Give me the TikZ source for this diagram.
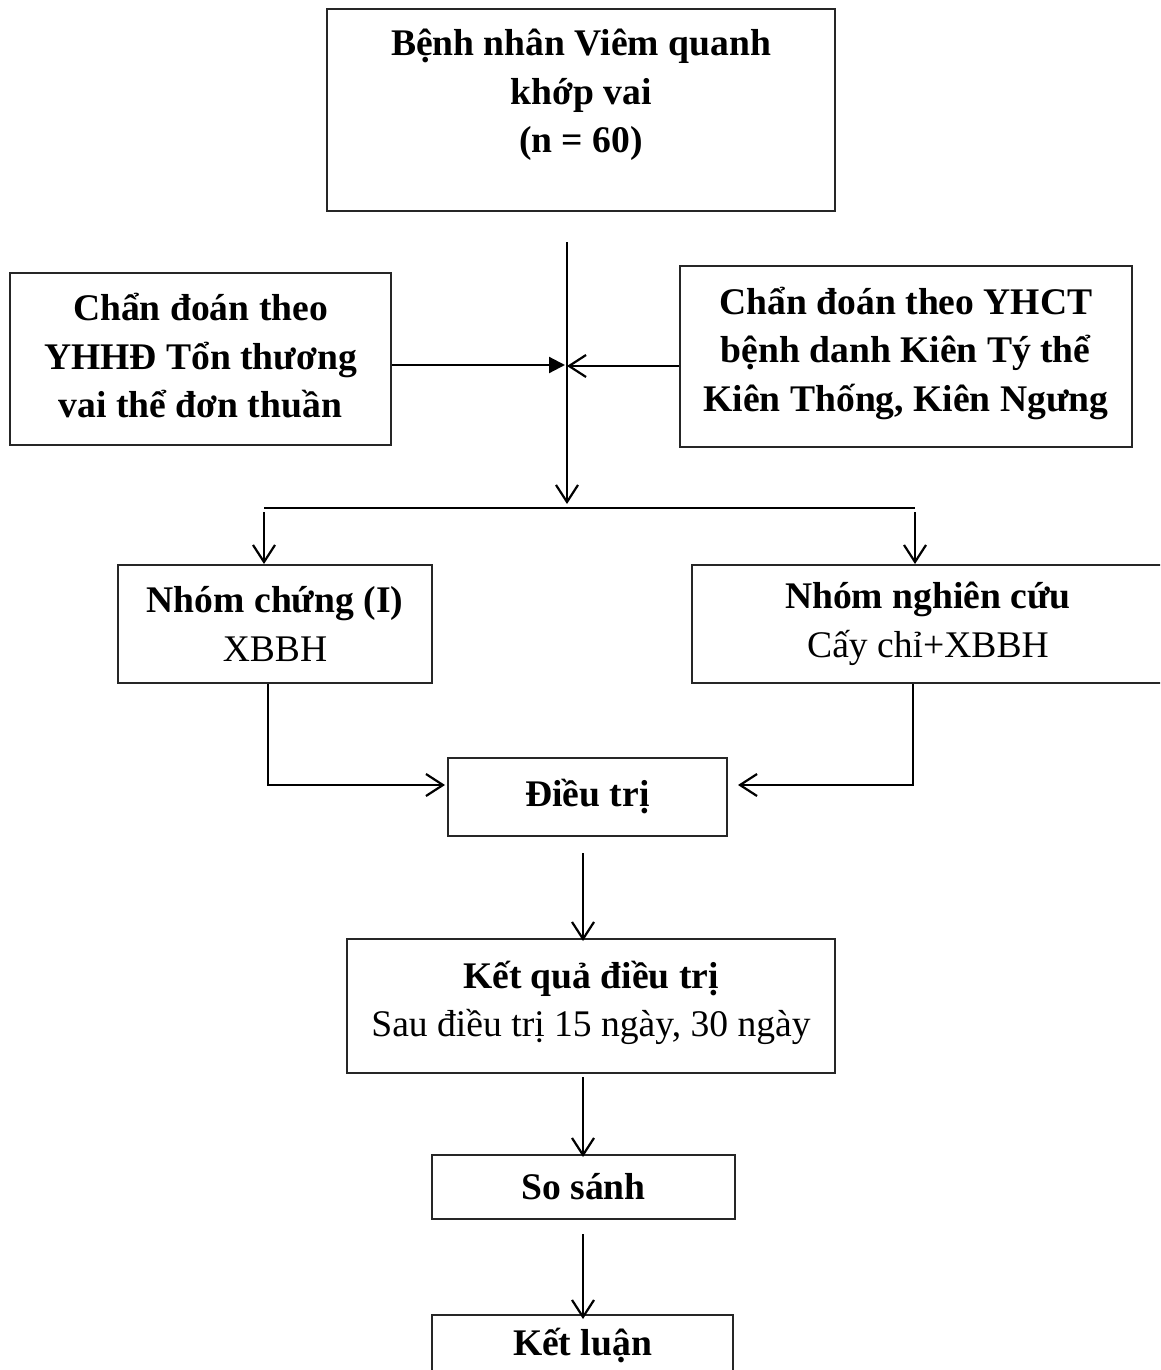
\documentclass[tikz,border=0pt]{standalone}
\usepackage{fontspec}
\setmainfont{Liberation Serif}
\usetikzlibrary{arrows.meta}
\begin{document}
\begin{tikzpicture}[x=1pt,y=-1pt,
  box/.style={draw=black!85, line width=2pt, inner sep=0pt},
  txt/.style={align=center, inner sep=0pt, font=\fontsize{37.6}{48.5}\selectfont},
  arr/.style={line width=2.2pt, -{Straight Barb[length=17pt,width=22pt,line width=2.2pt]}},
  tri/.style={line width=2.2pt, -{Triangle[length=16pt,width=16pt]}},
  ln/.style={line width=2.2pt}]
\clip (0,0) rectangle (1160,1370);
\fill[white] (0,0) rectangle (1160,1370);
% boxes
\node[box, minimum width=508pt, minimum height=202pt] (top) at (581,110) {};
\node[txt] (toptext) at (581,95) {\textbf{Bệnh nhân Viêm quanh}\\ \textbf{khớp vai}\\ \textbf{(n = 60)}};
\node[box, minimum width=381pt, minimum height=172pt] (left) at (200.5,359) {};
\node[txt] (lefttext) at (200.5,356) {\textbf{Chẩn đoán theo}\\ \textbf{YHHĐ Tổn thương}\\ \textbf{vai thể đơn thuần}};
\node[box, minimum width=452pt, minimum height=181pt] (right) at (906,356.5) {};
\node[txt] (righttext) at (906,353) {\textbf{Chẩn đoán theo YHCT}\\ \textbf{bệnh danh Kiên Tý thể}\\ \textbf{Kiên Thống, Kiên Ngưng}};
\node[box, txt, minimum width=314pt, minimum height=118pt] (g1) at (275,624) {\textbf{Nhóm chứng (I)}\\ XBBH};
\node[box, txt, minimum width=472pt, minimum height=118pt] (g2) at (928,624) {\textbf{Nhóm nghiên cứu}\\ Cấy chỉ+XBBH};
\node[box, txt, minimum width=279pt, minimum height=78pt] (dt) at (587.5,797) {\textbf{Điều trị}};
\node[box, minimum width=488pt, minimum height=134pt] (kq) at (591,1006) {};
\node[txt] (kqtext) at (591,1003) {\textbf{Kết quả điều trị}\\ Sau điều trị 15 ngày, 30 ngày};
\node[box, txt, minimum width=303pt, minimum height=64pt] (ss) at (583.5,1187) {\textbf{So sánh}};
\node[box, minimum width=301pt, minimum height=90pt] (kl) at (582.5,1360) {};
\node[txt] (kltext) at (582.5,1345) {\textbf{Kết luận}};
% coordinates
\coordinate (vt) at (567,242);
\coordinate (vb) at (567,504);
\coordinate (jl) at (565,365);
\coordinate (jr) at (567,366);
\coordinate (hl) at (264,508);
\coordinate (hr) at (915,508);
\coordinate (dl) at (268,785);
\coordinate (dr) at (913,785);
\coordinate (ax) at (583,0);
% connectors
\draw[arr] (vt) -- (vb);
\draw[tri] (left.east |- jl) -- (jl);
\draw[arr] (right.west |- jr) -- (jr);
\draw[ln] (hl) -- (hr);
\draw[arr] ([yshift=-4pt]hl) -- (g1.north -| hl);
\draw[arr] ([yshift=-4pt]hr) -- (g2.north -| hr);
\draw[arr] (g1.south -| dl) -- (dl) -- ([xshift=-2pt]dt.west |- dl);
\draw[arr] (g2.south -| dr) -- (dr) -- ([xshift=10pt]dt.east |- dr);
\draw[arr] ([yshift=-16pt]dt.south -| ax) -- ([yshift=-3pt]kq.north -| ax);
\draw[arr] ([yshift=-3pt]kq.south -| ax) -- ([yshift=-3pt]ss.north -| ax);
\draw[arr] ([yshift=-14pt]ss.south -| ax) -- ([yshift=-5pt]kl.north -| ax);
\end{tikzpicture}
\end{document}
